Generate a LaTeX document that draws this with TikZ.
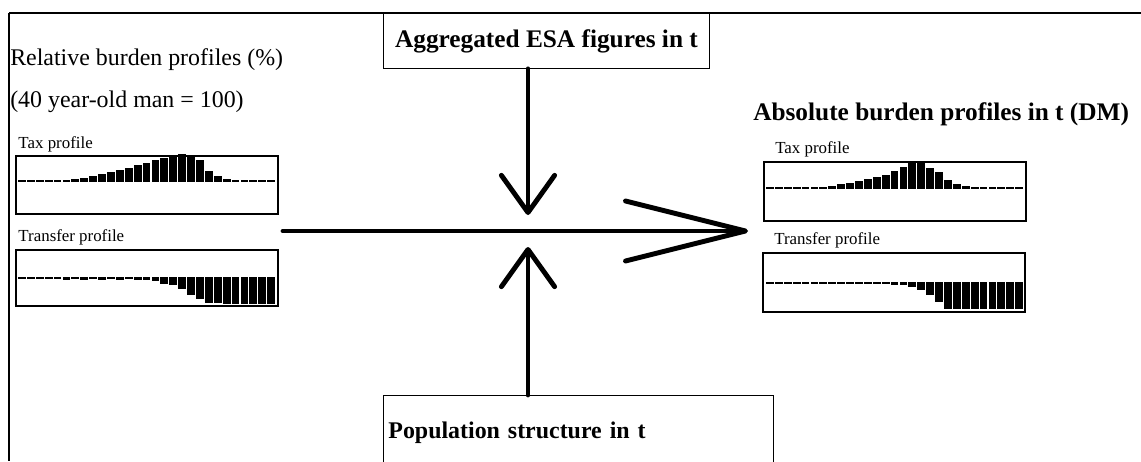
\documentclass[tikz,border=0pt]{standalone}
\usepackage{fontspec}
\setmainfont{Liberation Serif}
\usetikzlibrary{arrows.meta,positioning}

\tikzset{
  chartbox/.style={draw, line width=1.3pt, minimum width=6.55cm,
    minimum height=1.45cm, anchor=north west, inner sep=0pt},
  chartlabel/.style={anchor=base west, inner sep=0pt,
    font=\fontsize{12}{14}\selectfont},
  titletext/.style={anchor=base west, inner sep=0pt},
  flow/.style={line width=3.5pt, line cap=round},
  bigtip/.style={-{Straight Barb[length=3cm,width=1.5cm,round]}},
  smalltip/.style={-{Straight Barb[length=0.93cm,width=1.33cm,round]}},
}

\begin{document}
\begin{tikzpicture}[x=0.025cm,y=-0.025cm]
  \useasboundingbox (0,0) rectangle (1141,461);

  % frame
  \draw[line width=1.4pt] (9,13) -- (1141,13);
  \draw[line width=1pt] (9,13) -- (9,461);

  % input boxes
  \node[draw, line width=0.6pt, anchor=north west, minimum width=8.15cm,
    minimum height=1.375cm, font=\bfseries\fontsize{18}{20}\selectfont]
    (agg) at (383,13) {Aggregated ESA figures in t};
  \node[draw, line width=0.6pt, anchor=north west, minimum width=9.75cm,
    minimum height=1.85cm, text width=9.5cm, align=left,
    font=\bfseries\fontsize{17}{20}\selectfont]
    (pop) at (383,395) {Population structure in t};

  % titles
  \node[titletext, font=\fontsize{17}{20}\selectfont] (reltitle) at (10,65)
    {Relative burden profiles (\%)};
  \node[titletext, font=\fontsize{17}{20}\selectfont] (relnote) at (10,107)
    {(40 year-old man = 100)};
  \node[titletext, font=\bfseries\fontsize{18}{20}\selectfont] (abstitle)
    at (753,120) {Absolute burden profiles in t (DM)};

  % profile boxes
  \node[chartbox] (ltax) at (15,155) {};
  \node[chartbox, minimum height=1.4cm] (ltrans) at (15,249) {};
  \node[chartbox, minimum height=1.475cm] (rtax) at (763,161) {};
  \node[chartbox, minimum height=1.475cm] (rtrans) at (762,252) {};

  \node[chartlabel] (ltaxlab) at ([xshift=0.08cm,yshift=0.17cm]ltax.north west)
    {Tax profile};
  \node[chartlabel] (ltranslab) at ([xshift=0.08cm,yshift=0.2cm]ltrans.north west)
    {Transfer profile};
  \node[chartlabel] (rtaxlab) at ([xshift=0.3cm,yshift=0.2cm]rtax.north west)
    {Tax profile};
  \node[chartlabel] (rtranslab) at ([xshift=0.3cm,yshift=0.2cm]rtrans.north west)
    {Transfer profile};

  % bars
  \foreach \h [count=\i] in {2,2,2,2,2,2,3,4,6,8,10,12,14,17,19,22,24,26,28,27,
      22,11,6,3,2,2,2,2,2}
    \fill (18+8.9*\i-8.9,182) rectangle ++(7.8,-\h);
  \foreach \h [count=\i] in {2,2,2,2,2,3,2,3,2,3,2,3,2,3,3,4,7,8,12,18,
      22,26,26,27,27,27,27,27,27}
    \fill (18+8.9*\i-8.9,277) rectangle ++(7.8,\h);
  \foreach \h [count=\i] in {2,2,2,2,2,2,2,3,5,6,8,10,12,14,18,22,27,26,21,17,
      9,5,3,2,2,2,2,2,2}
    \fill (766+8.9*\i-8.9,189) rectangle ++(7.8,-\h);
  \foreach \h [count=\i] in {2,2,2,2,2,2,2,2,2,2,2,2,2,2,3,3,5,8,13,20,
      27,27,27,27,27,27,27,27,27}
    \fill (766+8.9*\i-8.9,282) rectangle ++(7.8,\h);

  % flows
  \coordinate (hub) at (528,231);
  \coordinate (intop) at (528,215);
  \coordinate (inbot) at (528,247);
  \coordinate (lstart) at (283,231);
  \coordinate (rend) at (748,231);

  \draw[flow, smalltip] (agg.south -| hub) -- (intop);
  \draw[flow, smalltip] (pop.north -| hub) -- (inbot);
  \draw[flow, bigtip] (lstart) -- (rend);
\end{tikzpicture}
\end{document}
